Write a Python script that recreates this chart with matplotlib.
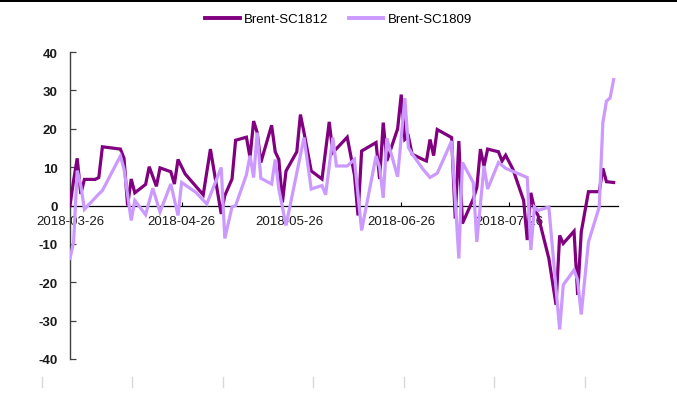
import matplotlib
matplotlib.use("Agg")
import matplotlib.pyplot as plt
import matplotlib.dates as mdates
import pandas as pd
from matplotlib.lines import Line2D
from matplotlib.patches import Rectangle

plt.rcParams['font.family'] = ['Liberation Sans', 'DejaVu Sans']
plt.rcParams['axes.unicode_minus'] = False

series_names = ["Brent-SC1812", "Brent-SC1809"]

dates_1812 = ["2018-03-26", "2018-03-27", "2018-03-28", "2018-03-29", "2018-03-30", "2018-04-02",
              "2018-04-03", "2018-04-04", "2018-04-09", "2018-04-10", "2018-04-11", "2018-04-12",
              "2018-04-13", "2018-04-16", "2018-04-17", "2018-04-19", "2018-04-20", "2018-04-23",
              "2018-04-24", "2018-04-25", "2018-04-27", "2018-05-02", "2018-05-04", "2018-05-07",
              "2018-05-08", "2018-05-10", "2018-05-11", "2018-05-14", "2018-05-15", "2018-05-16",
              "2018-05-17", "2018-05-18", "2018-05-21", "2018-05-22", "2018-05-23", "2018-05-24",
              "2018-05-25", "2018-05-28", "2018-05-29", "2018-05-30", "2018-06-01", "2018-06-04",
              "2018-06-06", "2018-06-07", "2018-06-11", "2018-06-13", "2018-06-14", "2018-06-15",
              "2018-06-19", "2018-06-20", "2018-06-21", "2018-06-22", "2018-06-25", "2018-06-26",
              "2018-06-27", "2018-06-28", "2018-06-29", "2018-07-02", "2018-07-03", "2018-07-04",
              "2018-07-05", "2018-07-06", "2018-07-10", "2018-07-11", "2018-07-12", "2018-07-13",
              "2018-07-16", "2018-07-17", "2018-07-18", "2018-07-19", "2018-07-20", "2018-07-23",
              "2018-07-24", "2018-07-25", "2018-07-27", "2018-07-30", "2018-07-31", "2018-08-01",
              "2018-08-02", "2018-08-03", "2018-08-06", "2018-08-08", "2018-08-09", "2018-08-10",
              "2018-08-13", "2018-08-14", "2018-08-15", "2018-08-17", "2018-08-20", "2018-08-21",
              "2018-08-22", "2018-08-23", "2018-08-24"]
values_1812 = [0.0, 6.5, 12.3, 3.0, 6.8, 6.8,
               7.3, 15.3, 14.7, 12.3, 0.0, 6.9,
               3.3, 5.5, 10.1, 5.0, 9.8, 8.8,
               5.6, 12.0, 8.2, 2.8, 14.7, -2.2,
               2.6, 6.9, 17.0, 17.8, 12.5, 22.0,
               19.0, 11.2, 20.9, 14.0, 12.0, 0.8,
               9.0, 14.0, 23.7, 19.0, 9.0, 6.9,
               21.8, 13.8, 17.8, 8.0, -2.6, 14.2,
               16.4, 6.9, 21.6, 11.6, 20.0, 28.9,
               17.2, 18.0, 13.4, 12.0, 11.6, 17.2,
               13.0, 19.8, 17.7, -3.4, 16.8, -4.7,
               1.7, 4.7, 14.7, 10.3, 14.7, 14.0,
               11.6, 13.1, 9.5, 1.3, -9.0, 3.3,
               -0.9, -2.6, -13.8, -25.9, -7.8, -9.9,
               -6.7, -23.3, -6.9, 3.6, 3.6, 9.7,
               6.2, 6.1, 6.0]

dates_1809 = ["2018-03-26", "2018-03-27", "2018-03-28", "2018-03-29", "2018-03-30", "2018-04-03",
              "2018-04-04", "2018-04-09", "2018-04-10", "2018-04-12", "2018-04-13", "2018-04-16",
              "2018-04-18", "2018-04-20", "2018-04-23", "2018-04-25", "2018-04-26", "2018-04-30",
              "2018-05-03", "2018-05-07", "2018-05-08", "2018-05-10", "2018-05-11", "2018-05-14",
              "2018-05-15", "2018-05-16", "2018-05-17", "2018-05-18", "2018-05-21", "2018-05-22",
              "2018-05-23", "2018-05-25", "2018-05-30", "2018-06-01", "2018-06-04", "2018-06-05",
              "2018-06-07", "2018-06-08", "2018-06-11", "2018-06-13", "2018-06-15", "2018-06-19",
              "2018-06-20", "2018-06-21", "2018-06-22", "2018-06-25", "2018-06-27", "2018-06-28",
              "2018-06-29", "2018-07-02", "2018-07-04", "2018-07-06", "2018-07-10", "2018-07-12",
              "2018-07-13", "2018-07-16", "2018-07-17", "2018-07-19", "2018-07-20", "2018-07-23",
              "2018-07-25", "2018-07-31", "2018-08-01", "2018-08-02", "2018-08-03", "2018-08-06",
              "2018-08-09", "2018-08-10", "2018-08-13", "2018-08-14", "2018-08-15", "2018-08-17",
              "2018-08-20", "2018-08-21", "2018-08-22", "2018-08-23", "2018-08-24"]
values_1809 = [-13.8, -9.5, 9.1, 5.2, -1.0, 3.0,
               3.9, 12.9, 9.5, -3.9, 1.3, -2.4,
               4.5, -1.7, 5.6, -2.6, 6.0, 3.4,
               0.4, 9.9, -8.6, -0.4, 0.0, 8.0,
               13.0, 7.3, 19.0, 7.1, 5.6, 12.0,
               4.3, -5.2, 17.7, 4.3, 5.2, 2.8,
               17.7, 10.3, 10.3, 12.0, -6.5, 12.9,
               10.0, 2.0, 17.5, 7.5, 28.0, 15.1,
               13.5, 9.5, 7.3, 8.4, 16.8, -13.8,
               11.2, 6.0, -9.5, 10.3, 4.3, 11.2,
               9.7, 7.3, -11.6, -0.4, -1.3, -0.4,
               -32.3, -20.7, -16.8, -19.4, -28.4, -9.5,
               -0.4, 21.6, 27.2, 28.0, 32.8]

x_tick_dates = ["2018-03-26", "2018-04-26", "2018-05-26", "2018-06-26", "2018-07-26"]
y_ticks = [-40, -30, -20, -10, 0, 10, 20, 30, 40]

color_1812 = "#800080"
color_1809 = "#CC99FF"

fig = plt.figure(figsize=(6.77, 4.06), dpi=100)
ax = fig.add_axes([70/677, 46/406, 548/677, 307/406])

d1 = pd.to_datetime(dates_1812)
d2 = pd.to_datetime(dates_1809)
ax.plot(d1, values_1812, color=color_1812, lw=2.3, solid_joinstyle='miter', zorder=3)
ax.plot(d2, values_1809, color=color_1809, lw=2.3, solid_joinstyle='miter', zorder=4)

ax.set_ylim(-40, 40)
ax.set_xlim(pd.Timestamp("2018-03-26"), pd.Timestamp("2018-08-25 05:00"))
ax.set_yticks(y_ticks)
ax.set_xticks(pd.to_datetime(x_tick_dates))
ax.xaxis.set_major_formatter(mdates.DateFormatter("%Y-%m-%d"))

for s in ["top", "right"]:
    ax.spines[s].set_visible(False)
ax.spines["bottom"].set_position(("data", 0))
ax.spines["bottom"].set_color("#000000")
ax.spines["bottom"].set_linewidth(0.9)
ax.spines["bottom"].set_zorder(2)
ax.spines["left"].set_color("#404040")
ax.spines["left"].set_linewidth(1.0)

ax.tick_params(axis="x", direction="in", length=3, width=0.8, pad=7,
               labelsize=9.5, labelcolor="#1a1a1a", color="#000000")
ax.tick_params(axis="y", direction="in", length=4, width=0.9, pad=9,
               labelsize=9.5, labelcolor="#1a1a1a", color="#404040")
for lab in ax.get_yticklabels():
    lab.set_fontweight("bold")
for lab in ax.get_xticklabels():
    lab.set_zorder(1)

handles = [Line2D([0], [0], color=color_1812, lw=2.8),
           Line2D([0], [0], color=color_1809, lw=2.8)]
fig.legend(handles, series_names, loc="center", bbox_to_anchor=(0.5, 1 - 20/406),
           ncol=2, frameon=False, fontsize=9.5, handlelength=2.6, handletextpad=0.3,
           columnspacing=1.6)

# top black border strip
fig.add_artist(Rectangle((0, 1 - 3/406), 1, 3/406, transform=fig.transFigure,
                         facecolor="black", edgecolor="none"))
# faint grey marks near the bottom
for xp in [41.7, 132.2, 222.7, 313.2, 403.7, 494.2, 584.7]:
    fig.add_artist(Line2D([xp/677, xp/677], [1 - 378/406, 1 - 388/406],
                          transform=fig.transFigure, color="#D9D9D9", lw=1))

fig.savefig("out.png", dpi=100)
